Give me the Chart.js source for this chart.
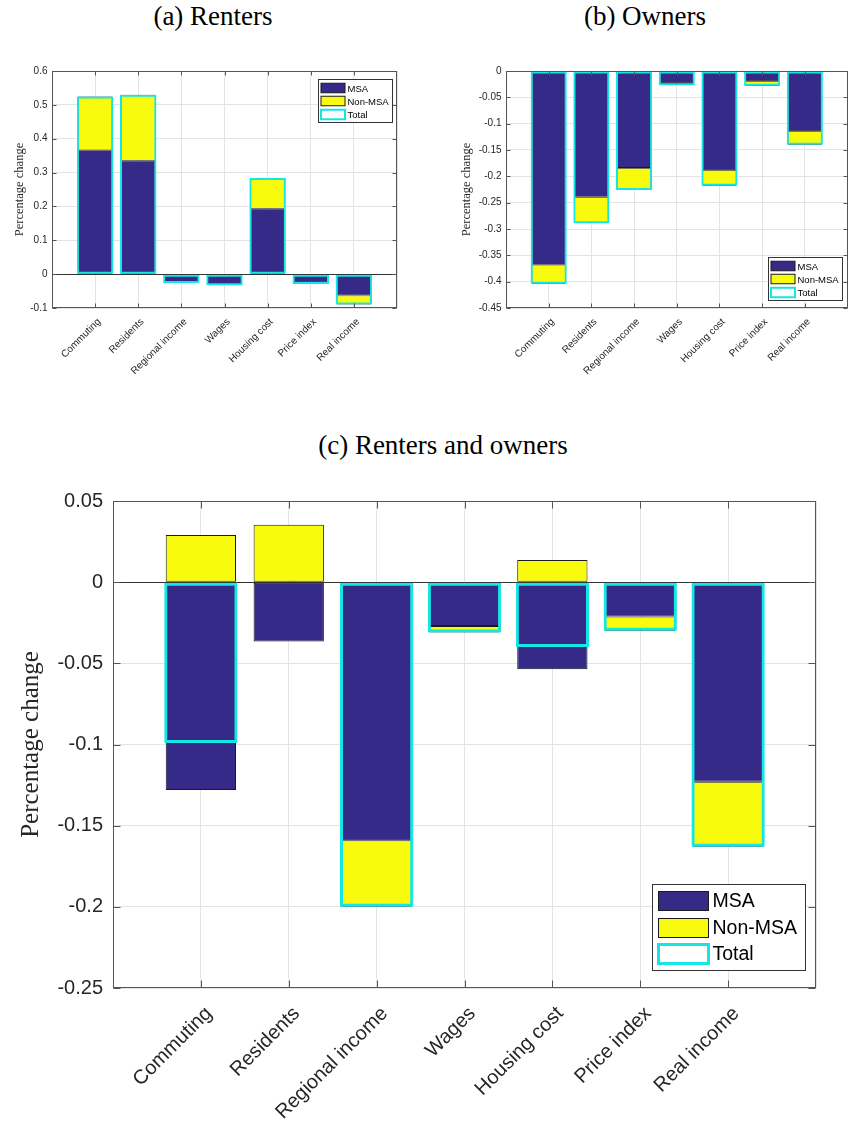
<!DOCTYPE html>
<html>
<head>
<meta charset="utf-8">
<script src="https://cdn.jsdelivr.net/npm/chart.js@4.4.1/dist/chart.umd.min.js"></script>
<style>
  html, body { margin: 0; padding: 0; width: 848px; height: 1131px; overflow: hidden; background: #fff; }
  .title { position: absolute; font-family: 'Liberation Serif', serif; font-size: 27px; line-height: 30px; color: #000; white-space: nowrap; transform: translateX(-50%); }
  canvas { position: absolute; }
</style>
</head>
<body>
<div class="title" style="left:213px; top:1px">(a) Renters</div>
<div class="title" style="left:645px; top:1px">(b) Owners</div>
<div class="title" style="left:443px; top:430px">(c) Renters and owners</div>
<canvas id="renters" width="424" height="360" style="left:0; top:40px"></canvas>
<canvas id="owners" width="440" height="360" style="left:424px; top:40px"></canvas>
<canvas id="both" width="848" height="661" style="left:0; top:470px"></canvas>
<script>
const categories = ['Commuting', 'Residents', 'Regional income', 'Wages', 'Housing cost', 'Price index', 'Real income'];
const seriesNames = ['MSA', 'Non-MSA', 'Total'];

// (a) renters
const rentersMSA = [0.366, 0.335, -0.023, -0.032, 0.193, -0.023, -0.063];
const rentersNonMSA = [0.159, 0.195, -0.003, -0.001, 0.091, -0.006, -0.027];
const rentersTotal = [0.525, 0.530, -0.026, -0.033, 0.284, -0.029, -0.090];

// (b) owners
const ownersMSA = [-0.368, -0.239, -0.184, -0.023, -0.188, -0.019, -0.114];
const ownersNonMSA = [-0.036, -0.050, -0.042, -0.004, -0.030, -0.009, -0.026];
const ownersTotal = [-0.404, -0.289, -0.226, -0.027, -0.218, -0.028, -0.140];

// (c) renters and owners
const bothMSA = [-0.128, -0.0365, -0.159, -0.027, -0.0537, -0.0212, -0.123];
const bothNonMSA = [0.029, 0.0353, -0.041, -0.004, 0.0137, -0.009, -0.040];
const bothTotal = [-0.099, 0, -0.200, -0.031, -0.040, -0.030, -0.163];

const yTicksRenters = [-0.1, 0, 0.1, 0.2, 0.3, 0.4, 0.5, 0.6];
const yTicksOwners = [-0.45, -0.4, -0.35, -0.3, -0.25, -0.2, -0.15, -0.1, -0.05, 0];
const yTicksBoth = [-0.25, -0.2, -0.15, -0.1, -0.05, 0, 0.05];

const msaColor = '#352a87';
const nonMsaColor = '#f9fb0e';
const totalColor = '#14e6e6';
const textColor = '#262626';
const boxColor = '#555555';
const gridColor = '#e4e4e4';
const sans = "'Liberation Sans', Arial, sans-serif";
const serif = "'Liberation Serif', serif";

// matlab look: full box, inward ticks, baseline, legend inside the axes
const matlabAxes = {
  id: 'matlabAxes',
  beforeDatasetsDraw(chart, args, opts) {
    const { ctx, chartArea: a, scales: { y } } = chart;
    const y0 = Math.round(y.getPixelForValue(0)) + 0.5;
    ctx.save();
    ctx.strokeStyle = '#333';
    ctx.lineWidth = 1;
    ctx.beginPath();
    ctx.moveTo(a.left, y0);
    ctx.lineTo(a.right, y0);
    ctx.stroke();
    ctx.restore();
  },
  afterDatasetsDraw(chart, args, opts) {
    const { ctx, chartArea: a, scales: { x, y } } = chart;
    const L = Math.round(a.left) + 0.5, R = Math.round(a.right) - 0.5;
    const T = Math.round(a.top) + 0.5, B = Math.round(a.bottom) - 0.5;
    ctx.save();
    ctx.strokeStyle = boxColor;
    ctx.lineWidth = 1;
    ctx.strokeRect(L, T, R - L, B - T);
    ctx.beginPath();
    y.ticks.forEach((t) => {
      const py = Math.round(y.getPixelForValue(t.value)) + 0.5;
      ctx.moveTo(L, py); ctx.lineTo(L + opts.tickLen, py);
      ctx.moveTo(R, py); ctx.lineTo(R - opts.tickLen, py);
    });
    categories.forEach((c, i) => {
      const px = Math.round(x.getPixelForValue(i + 1)) + 0.5;
      ctx.moveTo(px, B); ctx.lineTo(px, B - opts.tickLen);
      ctx.moveTo(px, T); ctx.lineTo(px, T + opts.tickLen);
    });
    ctx.stroke();

    // legend
    const lg = opts.legend;
    const lx = Math.round(a.right - lg.mx - lg.w) + 0.5;
    const ly = Math.round(lg.corner === 'ne' ? a.top + lg.my : a.bottom - lg.my - lg.h) + 0.5;
    ctx.fillStyle = '#fff';
    ctx.fillRect(lx, ly, lg.w, lg.h);
    ctx.strokeStyle = '#333';
    ctx.strokeRect(lx, ly, lg.w, lg.h);
    const fills = [msaColor, nonMsaColor, '#fff'];
    ctx.font = lg.font + 'px ' + sans;
    ctx.textBaseline = 'middle';
    ctx.textAlign = 'left';
    seriesNames.forEach((name, i) => {
      const cy = ly + lg.rows[i];
      const sx = lx + lg.sx, sy = cy - lg.sh / 2;
      ctx.fillStyle = fills[i];
      ctx.fillRect(sx, sy, lg.sw, lg.sh);
      if (i < 2) {
        ctx.strokeStyle = '#1a1a1a';
        ctx.lineWidth = 1;
      } else {
        ctx.strokeStyle = totalColor;
        ctx.lineWidth = opts.totalWidth;
      }
      ctx.strokeRect(sx, sy, lg.sw, lg.sh);
      ctx.fillStyle = '#000';
      ctx.fillText(name, lx + lg.tx, cy + 1);
    });
    ctx.restore();
  }
};

function buildChart(id, msa, nonMsa, total, yTicks, cfg) {
  const points = (arr) => arr.map((v, i) => ({ x: i + 1, y: v }));
  return new Chart(document.getElementById(id), {
    type: 'bar',
    data: {
      datasets: [
        {
          label: seriesNames[0], data: points(msa), stack: 'parts', order: 1,
          backgroundColor: msaColor, borderColor: '#1a1a1a', borderWidth: cfg.edge,
          borderSkipped: false, grouped: false, barPercentage: 0.8, categoryPercentage: 1
        },
        {
          label: seriesNames[1], data: points(nonMsa), stack: 'parts', order: 2,
          backgroundColor: nonMsaColor, borderColor: '#1a1a1a', borderWidth: cfg.edge,
          borderSkipped: false, grouped: false, barPercentage: 0.8, categoryPercentage: 1
        },
        {
          label: seriesNames[2], data: points(total), stack: 'total', order: 0,
          backgroundColor: 'rgba(0,0,0,0)', borderColor: totalColor, borderWidth: cfg.totalWidth,
          borderSkipped: false, grouped: false, barPercentage: cfg.totalPct, categoryPercentage: 1
        }
      ]
    },
    options: {
      responsive: false,
      animation: false,
      devicePixelRatio: 1,
      layout: { padding: { top: cfg.padTop, right: cfg.padRight, left: 0, bottom: 0 } },
      plugins: { legend: { display: false }, tooltip: { enabled: false }, matlabAxes: cfg },
      scales: {
        x: {
          type: 'linear', min: 0, max: categories.length + 1, offset: false, stacked: true,
          afterBuildTicks: (s) => { s.ticks = [0, ...categories.map((c, i) => i + 1), categories.length + 1].map((v) => ({ value: v })); },
          afterFit: (s) => { s.height = cfg.xAxisHeight; },
          grid: { color: gridColor, drawTicks: false, offset: false },
          border: { display: false },
          ticks: {
            autoSkip: false, minRotation: 45, maxRotation: 45,
            padding: cfg.xPad, labelOffset: cfg.xShift, color: textColor,
            font: { family: sans, size: cfg.tickFont },
            callback: (v) => categories[v - 1] || ''
          }
        },
        y: {
          min: yTicks[0], max: yTicks[yTicks.length - 1], stacked: true,
          afterBuildTicks: (s) => { s.ticks = yTicks.map((v) => ({ value: v })); },
          afterFit: (s) => { s.width = cfg.yAxisWidth; },
          grid: { color: gridColor, drawTicks: false },
          border: { display: false },
          ticks: {
            padding: cfg.yPad, color: textColor,
            font: { family: sans, size: cfg.tickFont },
            callback: (v) => String(v)
          },
          title: {
            display: true, text: 'Percentage change', color: textColor,
            font: { family: serif, size: cfg.titleFont },
            padding: { top: cfg.titlePad, bottom: 0 }
          }
        }
      }
    },
    plugins: [matlabAxes]
  });
}

const smallCfg = {
  padTop: 31, padRight: 27, yAxisWidth: 52, xAxisHeight: 92,
  tickFont: 10, titleFont: 12.5, titlePad: 12, yPad: 4.5, xPad: 8, xShift: 4,
  edge: 0.8, totalWidth: 2, totalPct: 0.846, tickLen: 4,
  legend: { corner: 'ne', mx: 5.5, my: 7.5, w: 74, h: 43, sx: 2.5, sw: 24, sh: 9.5, rows: [8.5, 21.5, 35], tx: 29, font: 9.5 }
};

buildChart('renters', rentersMSA, rentersNonMSA, rentersTotal, yTicksRenters, smallCfg);

buildChart('owners', ownersMSA, ownersNonMSA, ownersTotal, yTicksOwners, Object.assign({}, smallCfg, {
  padRight: 12, yAxisWidth: 82, titlePad: 35.5,
  legend: Object.assign({}, smallCfg.legend, { corner: 'se', mx: 6, my: 8.5 })
}));

buildChart('both', bothMSA, bothNonMSA, bothTotal, yTicksBoth, {
  padTop: 31, padRight: 32, yAxisWidth: 113, xAxisHeight: 143,
  tickFont: 20, titleFont: 25, titlePad: 16, yPad: 10, xPad: 14, xShift: 8,
  edge: 1, totalWidth: 3, totalPct: 0.834, tickLen: 7,
  legend: { corner: 'se', mx: 11, my: 18, w: 153, h: 86, sx: 6, sw: 50, sh: 19, rows: [16.5, 43.5, 69.5], tx: 60, font: 19.5 }
});
</script>
</body>
</html>
